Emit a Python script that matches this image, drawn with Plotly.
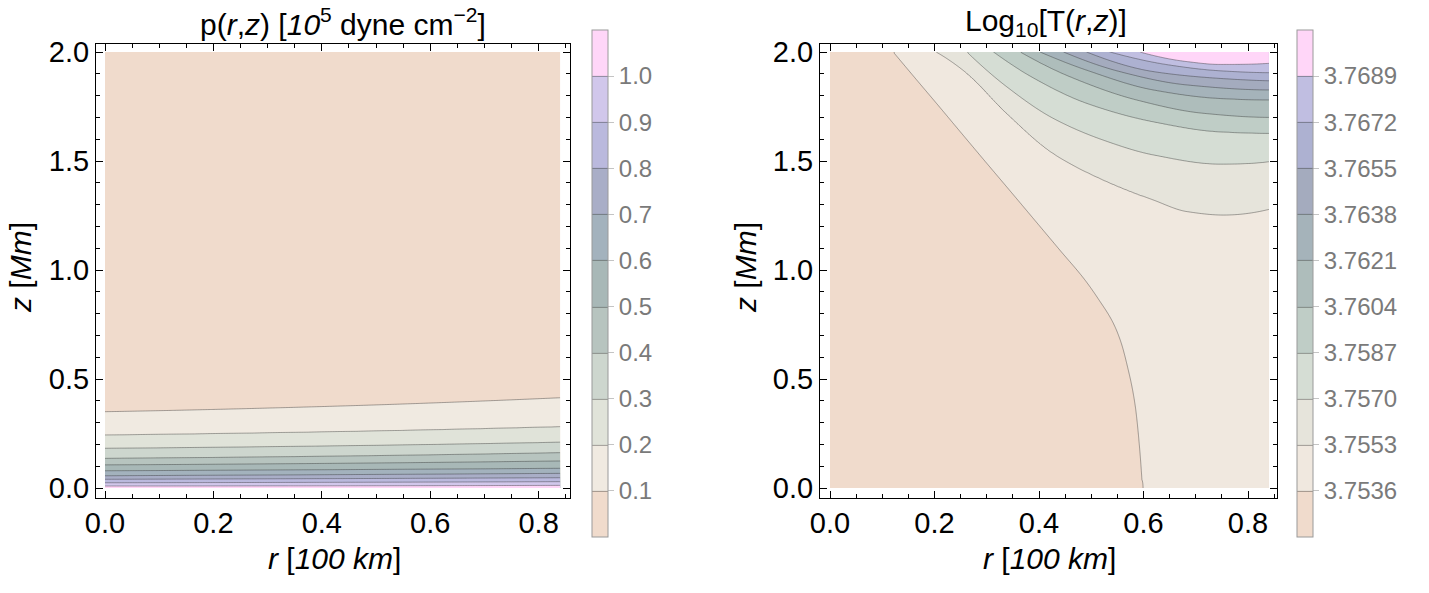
import numpy as np
import plotly.graph_objects as go

# ---------------- data ----------------
R_MAX = 0.84
Z_MAX = 2.0

# Left panel: p(r,z) [10^5 dyne cm^-2]; contour heights z (Mm) at r = 0, 0.42, 0.84
p_levels = [0.1, 0.2, 0.3, 0.4, 0.5, 0.6, 0.7, 0.8, 0.9, 1.0]
p_ticktext = ["0.1", "0.2", "0.3", "0.4", "0.5", "0.6", "0.7", "0.8", "0.9", "1.0"]
p_line_r = [0.0, 0.42, 0.84]
p_line_z = [
    [0.350, 0.375, 0.414],
    [0.243, 0.258, 0.281],
    [0.182, 0.193, 0.210],
    [0.136, 0.146, 0.162],
    [0.106, 0.113, 0.124],
    [0.079, 0.084, 0.090],
    [0.056, 0.061, 0.067],
    [0.040, 0.043, 0.047],
    [0.024, 0.026, 0.029],
    [0.009, 0.010, 0.012],
]
p_colors = ["#F0DBCC", "#F0EAE1", "#E0E3D9", "#CDD6CE", "#B7C4BF", "#A8B8B7",
            "#A3B2BD", "#A9AEC7", "#BAB9DD", "#D1C7EB", "#FFD6F8"]

# Right panel: Log10[T(r,z)]; each contour line as (r, z) points
t_levels = [3.7536, 3.7553, 3.7570, 3.7587, 3.7604, 3.7621, 3.7638, 3.7655, 3.7672, 3.7689]
t_ticktext = ["3.7536", "3.7553", "3.7570", "3.7587", "3.7604", "3.7621", "3.7638",
              "3.7655", "3.7672", "3.7689"]
t_line_r = [
    [0.121, 0.163, 0.205, 0.249, 0.297, 0.345, 0.392, 0.440, 0.488, 0.515, 0.542, 0.557, 0.568, 0.584, 0.593, 0.598],
    [0.203, 0.262, 0.338, 0.427, 0.523, 0.619, 0.683, 0.753, 0.840],
    [0.262, 0.338, 0.427, 0.523, 0.619, 0.746, 0.840],
    [0.313, 0.396, 0.491, 0.619, 0.746, 0.840],
    [0.364, 0.459, 0.587, 0.714, 0.840],
    [0.402, 0.491, 0.619, 0.746, 0.840],
    [0.447, 0.555, 0.683, 0.840],
    [0.491, 0.619, 0.746, 0.840],
    [0.536, 0.651, 0.746, 0.840],
    [0.593, 0.683, 0.746, 0.840],
]
t_line_z = [
    [2.000, 1.880, 1.761, 1.635, 1.498, 1.362, 1.228, 1.091, 0.954, 0.862, 0.757, 0.668, 0.570, 0.380, 0.170, 0.000],
    [2.000, 1.902, 1.719, 1.535, 1.413, 1.321, 1.268, 1.252, 1.278],
    [2.000, 1.841, 1.696, 1.596, 1.528, 1.486, 1.497],
    [2.000, 1.872, 1.765, 1.680, 1.634, 1.627],
    [2.000, 1.887, 1.780, 1.719, 1.700],
    [2.000, 1.917, 1.826, 1.787, 1.780],
    [2.000, 1.910, 1.849, 1.826],
    [2.000, 1.910, 1.879, 1.868],
    [2.000, 1.940, 1.914, 1.905],
    [2.000, 1.956, 1.943, 1.948],
]
t_colors = ["#F0DBCC", "#F0E8DF", "#E6E4DB", "#D5DDD4", "#BFCDC6", "#AEBDBB",
            "#A5B3BA", "#A4ABBE", "#ADB1D1", "#C0BEE1", "#FFD6F8"]

# ---------------- field built from the contour lines ----------------
r_grid = np.linspace(0.0, R_MAX, 281)
z_grid = np.linspace(0.0, Z_MAX, 501)


def _end_slope(h0, h1, d0, d1):
    m = ((2 * h0 + h1) * d0 - h0 * d1) / (h0 + h1)
    if np.sign(m) != np.sign(d0):
        m = 0.0
    elif np.sign(d0) != np.sign(d1) and abs(m) > abs(3 * d0):
        m = 3 * d0
    return m


def pchip(x, y, xq):
    """Shape-preserving cubic through the read points."""
    x = np.asarray(x, float)
    y = np.asarray(y, float)
    h = np.diff(x)
    d = np.diff(y) / h
    n = x.size
    m = np.zeros(n)
    if n == 2:
        m[:] = d[0]
    else:
        for k in range(1, n - 1):
            if d[k - 1] * d[k] > 0:
                w1 = 2 * h[k] + h[k - 1]
                w2 = h[k] + 2 * h[k - 1]
                m[k] = (w1 + w2) / (w1 / d[k - 1] + w2 / d[k])
        m[0] = _end_slope(h[0], h[1], d[0], d[1])
        m[-1] = _end_slope(h[-1], h[-2], d[-1], d[-2])
    xq = np.asarray(xq, float)
    i = np.clip(np.searchsorted(x, xq) - 1, 0, n - 2)
    t = (xq - x[i]) / h[i]
    t2, t3 = t * t, t * t * t
    return ((2 * t3 - 3 * t2 + 1) * y[i] + (t3 - 2 * t2 + t) * h[i] * m[i]
            + (-2 * t3 + 3 * t2) * y[i + 1] + (t3 - t2) * h[i] * m[i + 1])


def build_field(levels, line_r, line_z, direction, empty_value):
    size = round(levels[1] - levels[0], 8)
    field = np.empty((z_grid.size, r_grid.size))
    for j, r in enumerate(r_grid):
        zs, vs = [], []
        for lev, lr, lz in zip(levels, line_r, line_z):
            if lr[0] - 1e-9 <= r <= lr[-1] + 1e-9:
                zs.append(float(pchip(lr, lz, r)))
                vs.append(lev)
        if not zs:
            field[:, j] = empty_value
            continue
        order = np.argsort(zs)
        zs = np.array(zs)[order]
        vs = np.array(vs)[order]
        col = np.interp(z_grid, zs, vs)
        if zs.size >= 2:
            s_lo = (vs[1] - vs[0]) / max(zs[1] - zs[0], 1e-6)
            s_hi = (vs[-1] - vs[-2]) / max(zs[-1] - zs[-2], 1e-6)
        else:
            s_lo = s_hi = direction * size / 0.25
        lo = z_grid < zs[0]
        hi = z_grid > zs[-1]
        ext_lo = vs[0] + s_lo * (z_grid[lo] - zs[0])
        ext_hi = vs[-1] + s_hi * (z_grid[hi] - zs[-1])
        if direction > 0:
            ext_lo = np.maximum(ext_lo, vs[0] - 0.99 * size)
            ext_hi = np.minimum(ext_hi, vs[-1] + 0.99 * size)
        else:
            ext_lo = np.minimum(ext_lo, vs[0] + 0.99 * size)
            ext_hi = np.maximum(ext_hi, vs[-1] - 0.99 * size)
        col[lo] = ext_lo
        col[hi] = ext_hi
        field[:, j] = col
    return field


p_line_r_all = [p_line_r] * len(p_levels)
P = build_field(p_levels, p_line_r_all, p_line_z, -1, p_levels[0] * 0.5)
p_size = round(p_levels[1] - p_levels[0], 8)
t_size = round(t_levels[1] - t_levels[0], 8)
T = build_field(t_levels, t_line_r, t_line_z, 1, t_levels[0] - 0.5 * t_size)

# ---------------- figure ----------------
W, H = 1429, 593
FONT = "Liberation Sans, Arial, Helvetica, sans-serif"
LINE = "rgba(40,40,40,0.5)"


def px(x):
    return x / W


def py(y):
    return 1 - y / H


def scale(colors):
    n = len(colors) - 1
    return [[i / n, c] for i, c in enumerate(colors)]


def cbar(x_left, levels, ticktext):
    return dict(
        x=px(x_left), xanchor="left", xpad=0, ypad=0,
        y=py(283.5), yanchor="middle", len=507 / H, lenmode="fraction",
        thickness=16, thicknessmode="pixels",
        outlinewidth=1, outlinecolor="#9a9a9a",
        tickmode="array", tickvals=levels, ticktext=ticktext,
        ticks="outside", ticklen=6, tickwidth=1, tickcolor="#c4c4c4",
        tickfont=dict(family=FONT, size=24, color="#7a7a7a"),
    )


fig = go.Figure()
fig.add_trace(go.Contour(
    x=r_grid, y=z_grid, z=P, xaxis="x", yaxis="y",
    autocontour=False,
    contours=dict(start=p_levels[0], end=p_levels[-1], size=p_size,
                  coloring="fill", showlines=True),
    colorscale=scale(p_colors), zmin=p_levels[0] - p_size, zmax=p_levels[-1] + p_size,
    line=dict(color=LINE, width=0.8, smoothing=1),
    colorbar=cbar(592, p_levels, p_ticktext), hoverinfo="skip",
))
fig.add_trace(go.Contour(
    x=r_grid, y=z_grid, z=T, xaxis="x2", yaxis="y2",
    autocontour=False,
    contours=dict(start=t_levels[0], end=t_levels[-1], size=t_size,
                  coloring="fill", showlines=True),
    colorscale=scale(t_colors), zmin=t_levels[0] - t_size, zmax=t_levels[-1] + t_size,
    line=dict(color=LINE, width=0.8, smoothing=1),
    colorbar=cbar(1297, t_levels, t_ticktext), hoverinfo="skip",
))

axis_common = dict(
    showline=True, linecolor="black", linewidth=1, mirror="allticks",
    ticks="inside", ticklen=7, tickwidth=1, tickcolor="black",
    showgrid=False, zeroline=False, tickformat=".1f", automargin=False,
    tickfont=dict(family=FONT, size=29, color="black"),
)
xminor = dict(ticks="inside", ticklen=4, tickwidth=1, tickcolor="black", dtick=0.05, showgrid=False)
yminor = dict(ticks="inside", ticklen=4, tickwidth=1, tickcolor="black", dtick=0.1, showgrid=False)

ydom = [py(497.5), py(44)]
yrange = [(488 - 497.5) / 218, (488 - 44) / 218]

fig.update_layout(
    width=W, height=H, margin=dict(l=0, r=0, t=0, b=0, pad=0, autoexpand=False),
    paper_bgcolor="white", plot_bgcolor="white", showlegend=False,
    xaxis=dict(domain=[px(96), px(570)], range=[(96 - 105) / 542, (570 - 105) / 542],
               anchor="y", tick0=0, dtick=0.2, minor=xminor, **axis_common),
    yaxis=dict(domain=ydom, range=yrange, anchor="x", tick0=0, dtick=0.5, minor=yminor, **axis_common),
    xaxis2=dict(domain=[px(820), px(1277)], range=[(820 - 830) / 522.5, (1277 - 830) / 522.5],
                anchor="y2", tick0=0, dtick=0.2, minor=xminor, **axis_common),
    yaxis2=dict(domain=ydom, range=yrange, anchor="x2", tick0=0, dtick=0.5, minor=yminor, **axis_common),
)

label_font = dict(family=FONT, size=30, color="black")
annotations = [
    dict(x=px(343), y=py(22),
         text="p(<i>r</i>,<i>z</i>) [<i>10</i><sup>5</sup> dyne cm<sup>−2</sup>]"),
    dict(x=px(1046), y=py(22), text="Log<sub>10</sub>[T(<i>r</i>,<i>z</i>)]"),
    dict(x=px(20), y=py(268), text="<i>z</i> [<i>Mm</i>]", textangle=-90),
    dict(x=px(745), y=py(268), text="<i>z</i> [<i>Mm</i>]", textangle=-90),
    dict(x=px(334), y=py(558), text="<i>r</i> [<i>100 km</i>]"),
    dict(x=px(1049), y=py(558), text="<i>r</i> [<i>100 km</i>]"),
]
for a in annotations:
    a.update(xref="paper", yref="paper", xanchor="center", yanchor="middle",
             showarrow=False, font=label_font)
fig.update_layout(annotations=annotations)

fig.write_html("out.html", post_script="document.body.style.margin='0px';")
